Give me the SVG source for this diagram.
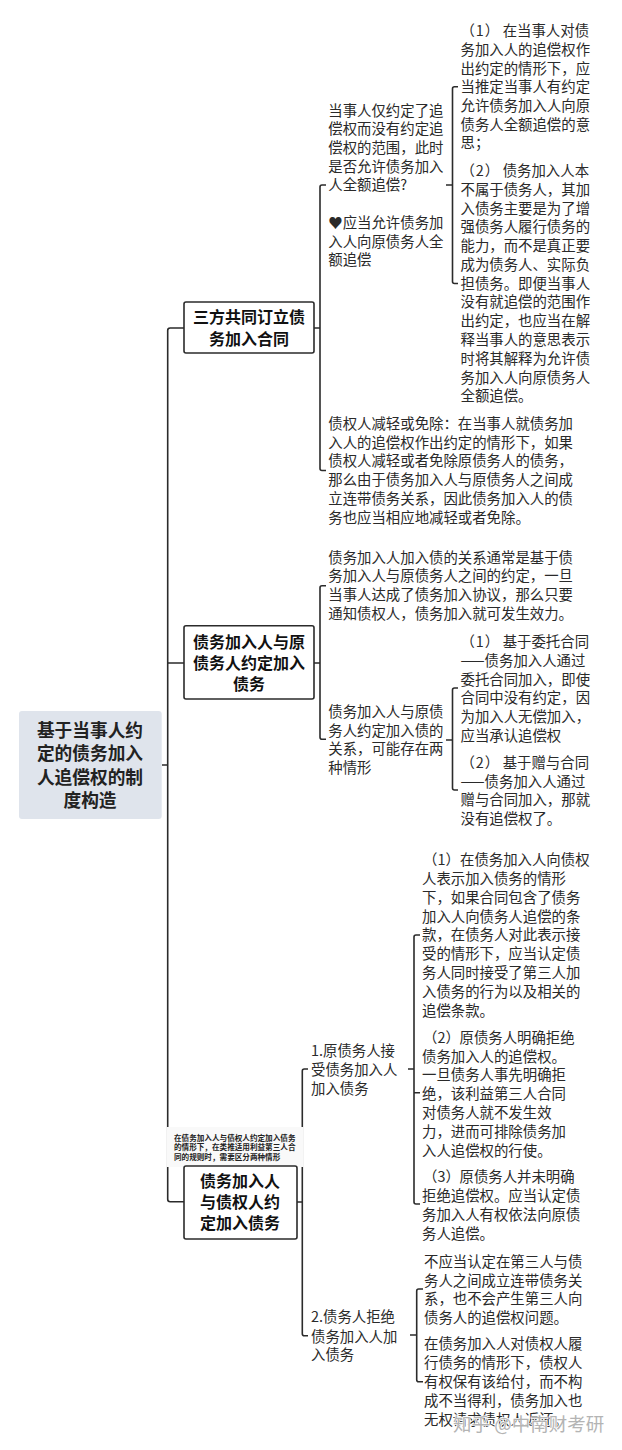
<svg xmlns="http://www.w3.org/2000/svg" width="622" height="1450" viewBox="0 0 622 1450">
<style>
text{font-family:"Noto Sans CJK SC","Liberation Sans",sans-serif;fill:#2a2a2a}
.t{font-size:14.4px}
.p{letter-spacing:.9px}
.b{font-size:16px;font-weight:700;text-anchor:middle;fill:#111}
.r{font-size:17.7px;font-weight:700;text-anchor:middle;fill:#222}
.n{font-size:7.6px;font-weight:700;fill:#222}
.box{fill:#fff;stroke:#2b2b2b;stroke-width:1.6}
.c{fill:none;stroke:#2b2b2b;stroke-width:1.6}
.wm{font-size:18.5px;fill:#b4b4b4;stroke:#fff;stroke-width:1.2;paint-order:stroke}
</style>
<rect width="622" height="1450" fill="#fff"/>
<g id="connectors">
<path class="c" d="M162 765H167.700M184 328H170.200Q167.700 328 167.700 330.500V1199.200Q167.700 1201.700 170.200 1201.700H184M167.700 663H184"/>
<path class="c" d="M314 328H320M326 185H322Q320 185 320 187V468.500Q320 470.500 322 470.500H326"/>
<path class="c" d="M314 663H320M326 585.700H322Q320 585.700 320 587.700V737.300Q320 739.300 322 739.300H326"/>
<path class="c" d="M446 185H452.500M458 86.700H454.500Q452.500 86.700 452.500 88.700V281.500Q452.500 283.500 454.500 283.500H458"/>
<path class="c" d="M446 740H452.500M458 688H454.500Q452.500 688 452.500 690V788Q452.500 790 454.500 790H458"/>
<path class="c" d="M297 1202H302.300M308 1069H304.300Q302.300 1069 302.300 1071V1333.700Q302.300 1335.700 304.300 1335.700H308"/>
<path class="c" d="M408 1069H414M420 935H416Q414 935 414 937V1202Q414 1204 416 1204H420M414 1092.700H420"/>
<path class="c" d="M410 1335H416.700M423 1289H418.700Q416.700 1289 416.700 1291V1379.700Q416.700 1381.700 418.700 1381.700H423"/>
</g>
<g id="root">
<rect x="19" y="711" width="142.700" height="108" rx="3" fill="#dfe4ec"/>
<text class="r" x="90" y="737">基于当事人约</text>
<text class="r" x="90" y="760.300">定的债务加入</text>
<text class="r" x="90" y="783.600">人追偿权的制</text>
<text class="r" x="90" y="807">度构造</text>
</g>
<g id="node-1">
<rect class="box" x="184" y="302" width="130" height="51" rx="2"/>
<text class="b" x="249" y="323">三方共同订立债</text>
<text class="b" x="249" y="345">务加入合同</text>
</g>
<g id="node-1-1">
<text class="t" x="328.300" y="115.700">当事人仅约定了追</text>
<text class="t" x="328.300" y="134.300">偿权而没有约定追</text>
<text class="t" x="328.300" y="153">偿权的范围，此时</text>
<text class="t" x="328.300" y="171.700">是否允许债务加入</text>
<text class="t" x="328.300" y="190.300">人全额追偿?</text>
<text class="t" x="328.300" y="228">♥<tspan x="342.700">应当允许债务加</tspan></text>
<text class="t" x="328.300" y="246.700">入人向原债务人全</text>
<text class="t" x="328.300" y="265.300">额追偿</text>
</g>
<g id="node-1-1-1">
<text class="t" x="460.500" y="36"><tspan class="p">（1）</tspan><tspan x="502.700">在当事人对债</tspan></text>
<text class="t" x="460.500" y="55">务加入人的追偿权作</text>
<text class="t" x="460.500" y="73.700">出约定的情形下，应</text>
<text class="t" x="460.500" y="92.300">当推定当事人有约定</text>
<text class="t" x="460.500" y="111">允许债务加入人向原</text>
<text class="t" x="460.500" y="130">债务人全额追偿的意</text>
<text class="t" x="460.500" y="148.300">思；</text>
</g>
<g id="node-1-1-2">
<text class="t" x="460.500" y="176"><tspan class="p">（2）</tspan><tspan x="502.700">债务加入人本</tspan></text>
<text class="t" x="460.500" y="195">不属于债务人，其加</text>
<text class="t" x="460.500" y="213.700">入债务主要是为了增</text>
<text class="t" x="460.500" y="232.300">强债务人履行债务的</text>
<text class="t" x="460.500" y="251">能力，而不是真正要</text>
<text class="t" x="460.500" y="270">成为债务人、实际负</text>
<text class="t" x="460.500" y="288.700">担债务。即便当事人</text>
<text class="t" x="460.500" y="307.300">没有就追偿的范围作</text>
<text class="t" x="460.500" y="326">出约定，也应当在解</text>
<text class="t" x="460.500" y="345">释当事人的意思表示</text>
<text class="t" x="460.500" y="363.700">时将其解释为允许债</text>
<text class="t" x="460.500" y="382.700">务加入人向原债务人</text>
<text class="t" x="460.500" y="401.300">全额追偿。</text>
</g>
<g id="node-1-2">
<text class="t" x="328.300" y="429">债权人减轻或免除：在当事人就债务加</text>
<text class="t" x="328.300" y="447.700">入人的追偿权作出约定的情形下，如果</text>
<text class="t" x="328.300" y="466.300">债权人减轻或者免除原债务人的债务，</text>
<text class="t" x="328.300" y="485">那么由于债务加入人与原债务人之间成</text>
<text class="t" x="328.300" y="504">立连带债务关系，因此债务加入人的债</text>
<text class="t" x="328.300" y="522.700">务也应当相应地减轻或者免除。</text>
</g>
<g id="node-2">
<rect class="box" x="184" y="625.700" width="130" height="73.300" rx="2"/>
<text class="b" x="249" y="648">债务加入人与原</text>
<text class="b" x="249" y="669.300">债务人约定加入</text>
<text class="b" x="249" y="690.300">债务</text>
</g>
<g id="node-2-1">
<text class="t" x="328.300" y="562.700">债务加入人加入债的关系通常是基于债</text>
<text class="t" x="328.300" y="581.300">务加入人与原债务人之间的约定，一旦</text>
<text class="t" x="328.300" y="600.300">当事人达成了债务加入协议，那么只要</text>
<text class="t" x="328.300" y="619">通知债权人，债务加入就可发生效力。</text>
</g>
<g id="node-2-2">
<text class="t" x="328.300" y="717">债务加入人与原债</text>
<text class="t" x="328.300" y="735.700">务人约定加入债的</text>
<text class="t" x="328.300" y="754.300">关系，可能存在两</text>
<text class="t" x="328.300" y="773">种情形</text>
</g>
<g id="node-2-2-1">
<text class="t" x="460.500" y="647"><tspan class="p">（1）</tspan><tspan x="502.700">基于委托合同</tspan></text>
<text class="t" x="460.500" y="666">——债务加入人通过</text>
<text class="t" x="460.500" y="684.700">委托合同加入，即使</text>
<text class="t" x="460.500" y="703.300">合同中没有约定，因</text>
<text class="t" x="460.500" y="722">为加入人无偿加入，</text>
<text class="t" x="460.500" y="740.700">应当承认追偿权</text>
</g>
<g id="node-2-2-2">
<text class="t" x="460.500" y="768"><tspan class="p">（2）</tspan><tspan x="502.700">基于赠与合同</tspan></text>
<text class="t" x="460.500" y="786.700">——债务加入人通过</text>
<text class="t" x="460.500" y="805.300">赠与合同加入，那就</text>
<text class="t" x="460.500" y="824.300">没有追偿权了。</text>
</g>
<g id="note">
<rect x="166.500" y="1127" width="137" height="40" fill="#f9f9f9"/>
<text class="n" x="174" y="1140.500">在债务加入人与债权人约定加入债务</text>
<text class="n" x="174" y="1150.300">的情形下，在类推适用利益第三人合</text>
<text class="n" x="174" y="1160">同的规则时，需要区分两种情形</text>
</g>
<g id="node-3">
<rect class="box" x="184" y="1166" width="113" height="73" rx="2"/>
<text class="b" x="240" y="1187">债务加入人</text>
<text class="b" x="240" y="1208">与债权人约</text>
<text class="b" x="240" y="1229">定加入债务</text>
</g>
<g id="node-3-1">
<text class="t" x="311" y="1056">1.原债务人接</text>
<text class="t" x="311" y="1075">受债务加入人</text>
<text class="t" x="311" y="1093.700">加入债务</text>
</g>
<g id="node-3-1-1">
<text class="t" x="423" y="865">（1）<tspan x="460">在债务加入人向债权</tspan></text>
<text class="t" x="422" y="884">人表示加入债务的情形</text>
<text class="t" x="422" y="902.700">下，如果合同包含了债务</text>
<text class="t" x="422" y="921.700">加入人向债务人追偿的条</text>
<text class="t" x="422" y="940.300">款，在债务人对此表示接</text>
<text class="t" x="422" y="959.300">受的情形下，应当认定债</text>
<text class="t" x="422" y="978.300">务人同时接受了第三人加</text>
<text class="t" x="422" y="997">入债务的行为以及相关的</text>
<text class="t" x="422" y="1016">追偿条款。</text>
</g>
<g id="node-3-1-2">
<text class="t" x="423" y="1042.700">（2）<tspan x="459.500">原债务人明确拒绝</tspan></text>
<text class="t" x="422" y="1061.700">债务加入人的追偿权。</text>
<text class="t" x="422" y="1080.300">一旦债务人事先明确拒</text>
<text class="t" x="422" y="1099.300">绝，该利益第三人合同</text>
<text class="t" x="422" y="1118.300">对债务人就不发生效</text>
<text class="t" x="422" y="1137">力，进而可排除债务加</text>
<text class="t" x="422" y="1156">入人追偿权的行使。</text>
</g>
<g id="node-3-1-3">
<text class="t" x="423" y="1182.300">（3）<tspan x="459.500">原债务人并未明确</tspan></text>
<text class="t" x="422" y="1201.300">拒绝追偿权。应当认定债</text>
<text class="t" x="422" y="1220">务加入人有权依法向原债</text>
<text class="t" x="422" y="1239">务人追偿。</text>
</g>
<g id="node-3-2">
<text class="t" x="311" y="1322.300">2.债务人拒绝</text>
<text class="t" x="311" y="1341.700">债务加入人加</text>
<text class="t" x="311" y="1360.300">入债务</text>
</g>
<g id="node-3-2-1">
<text class="t" x="424" y="1266.700">不应当认定在第三人与债</text>
<text class="t" x="424" y="1285.700">务人之间成立连带债务关</text>
<text class="t" x="424" y="1304.300">系，也不会产生第三人向</text>
<text class="t" x="424" y="1323.300">债务人的追偿权问题。</text>
</g>
<g id="node-3-2-2">
<text class="t" x="424" y="1349.300">在债务加入人对债权人履</text>
<text class="t" x="424" y="1368.300">行债务的情形下，债权人</text>
<text class="t" x="424" y="1387.300">有权保有该给付，而不构</text>
<text class="t" x="424" y="1406">成不当得利，债务加入也</text>
<text class="t" x="424" y="1425">无权请求债权人返还。</text>
</g>
<text class="wm" x="453" y="1431">知乎 @中南财考研</text>
</svg>
